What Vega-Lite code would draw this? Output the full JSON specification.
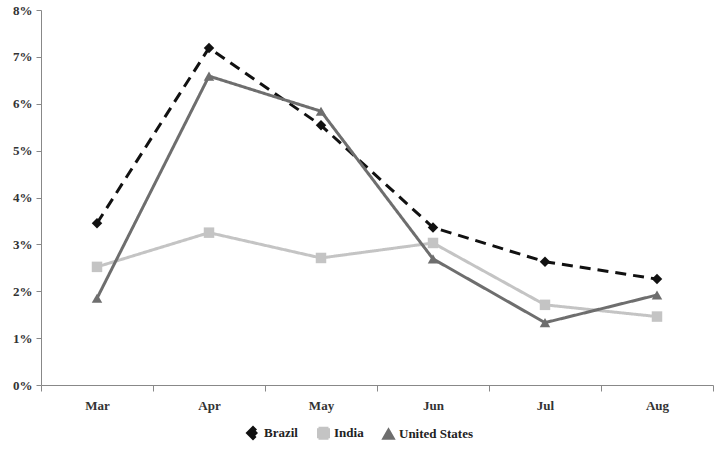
{
  "$schema": "https://vega.github.io/schema/vega-lite/v6.json",
  "width": 672,
  "height": 375,
  "autosize": {"type": "none"},
  "padding": {"left": 41, "top": 10, "right": 10, "bottom": 65},
  "background": "white",
  "config": {
    "view": {"stroke": null},
    "font": "'Liberation Serif', 'DejaVu Serif', serif",
    "axis": {"labelFont": "'Liberation Serif', serif", "labelFontWeight": "bold", "labelFontSize": 13, "labelColor": "#333", "domainColor": "#888", "tickColor": "#888", "grid": false},
    "legend": {"labelFont": "'Liberation Serif', serif"}
  },
  "data": {
    "values": [
      {"month": "Mar", "country": "Brazil", "rate": 0.0345},
      {"month": "Apr", "country": "Brazil", "rate": 0.0719},
      {"month": "May", "country": "Brazil", "rate": 0.0554},
      {"month": "Jun", "country": "Brazil", "rate": 0.0336},
      {"month": "Jul", "country": "Brazil", "rate": 0.0263},
      {"month": "Aug", "country": "Brazil", "rate": 0.0226},
      {"month": "Mar", "country": "India", "rate": 0.0252},
      {"month": "Apr", "country": "India", "rate": 0.0325},
      {"month": "May", "country": "India", "rate": 0.0271},
      {"month": "Jun", "country": "India", "rate": 0.0303},
      {"month": "Jul", "country": "India", "rate": 0.0171},
      {"month": "Aug", "country": "India", "rate": 0.0146},
      {"month": "Mar", "country": "United States", "rate": 0.0185},
      {"month": "Apr", "country": "United States", "rate": 0.0659},
      {"month": "May", "country": "United States", "rate": 0.0584},
      {"month": "Jun", "country": "United States", "rate": 0.0269},
      {"month": "Jul", "country": "United States", "rate": 0.0133},
      {"month": "Aug", "country": "United States", "rate": 0.0192}
    ]
  },
  "encoding": {
    "x": {
      "field": "month", "type": "ordinal", "sort": ["Mar", "Apr", "May", "Jun", "Jul", "Aug"],
      "bandPosition": 0.5,
      "scale": {"type": "band", "paddingInner": 0, "paddingOuter": 0},
      "axis": {"title": null, "labelAngle": 0, "tickBand": "extent", "tickSize": 6, "labelPadding": 8}
    },
    "y": {
      "field": "rate", "type": "quantitative",
      "scale": {"domain": [0, 0.08], "nice": false},
      "axis": {"title": null, "format": ".0%", "values": [0, 0.01, 0.02, 0.03, 0.04, 0.05, 0.06, 0.07, 0.08], "labelOverlap": false, "tickSize": 5, "labelPadding": 4}
    },
    "color": {
      "field": "country", "type": "nominal",
      "scale": {"domain": ["Brazil", "India", "United States"], "range": ["#111111", "#c4c4c4", "#6e6e6e"]},
      "legend": {"title": null, "orient": "none", "legendX": 205, "legendY": 416, "direction": "horizontal", "labelFontWeight": "bold", "labelFontSize": 13, "labelColor": "#222", "symbolSize": 100, "columnPadding": 14}
    },
    "shape": {
      "field": "country", "type": "nominal",
      "scale": {"domain": ["Brazil", "India", "United States"], "range": ["diamond", "square", "triangle-up"]}
    }
  },
  "layer": [
    {
      "mark": {"type": "line", "strokeWidth": 3},
      "encoding": {
        "strokeDash": {
          "field": "country", "type": "nominal",
          "scale": {"domain": ["Brazil", "India", "United States"], "range": [[11, 7], [1, 0], [1, 0]]},
          "legend": null
        },
        "strokeWidth": {
          "field": "country", "type": "nominal",
          "scale": {"domain": ["Brazil", "India", "United States"], "range": [3.5, 2.5, 2.5]},
          "legend": null
        }
      }
    },
    {
      "mark": {"type": "point", "filled": true, "opacity": 1, "size": 110}
    }
  ]
}
